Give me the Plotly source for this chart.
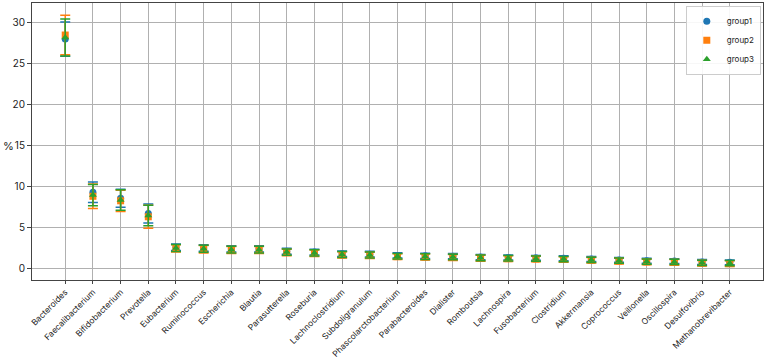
import plotly.graph_objects as go

genera = ["Bacteroides", "Faecalibacterium", "Bifidobacterium", "Prevotella", "Eubacterium",
          "Ruminococcus", "Escherichia", "Blautia", "Parasutterella", "Roseburia",
          "Lachnoclostridium", "Subdoligranulum", "Phascolarctobacterium", "Parabacteroides",
          "Dialister", "Romboutsia", "Lachnospira", "Fusobacterium", "Clostridium",
          "Akkermansia", "Coprococcus", "Veillonella", "Oscillospira", "Desulfovibrio",
          "Methanobrevibacter"]

group1_mean = [28.0, 9.35, 8.6, 6.75, 2.65, 2.55, 2.45, 2.45, 2.15, 2.05, 1.85, 1.8, 1.65, 1.6,
               1.55, 1.45, 1.4, 1.35, 1.3, 1.2, 1.1, 1.0, 0.95, 0.85, 0.8]
group1_err = [2.1, 1.25, 1.1, 1.15, 0.4, 0.4, 0.38, 0.38, 0.36, 0.36, 0.34, 0.34, 0.32, 0.32,
              0.32, 0.32, 0.3, 0.3, 0.3, 0.3, 0.3, 0.3, 0.3, 0.3, 0.3]

group2_mean = [28.5, 8.85, 8.3, 6.35, 2.5, 2.4, 2.3, 2.3, 2.0, 1.9, 1.7, 1.65, 1.5, 1.45,
               1.4, 1.3, 1.25, 1.2, 1.15, 1.05, 0.95, 0.85, 0.8, 0.7, 0.65]
group2_err = [2.4, 1.5, 1.3, 1.4, 0.45, 0.45, 0.42, 0.42, 0.4, 0.4, 0.38, 0.38, 0.36, 0.36,
              0.36, 0.36, 0.34, 0.34, 0.34, 0.34, 0.34, 0.34, 0.34, 0.34, 0.34]

group3_mean = [28.2, 9.0, 8.4, 6.5, 2.55, 2.45, 2.35, 2.35, 2.05, 1.95, 1.75, 1.7, 1.55, 1.5,
               1.45, 1.35, 1.3, 1.25, 1.2, 1.1, 1.0, 0.9, 0.85, 0.75, 0.7]
group3_err = [2.25, 1.3, 1.25, 1.25, 0.42, 0.42, 0.4, 0.4, 0.38, 0.38, 0.36, 0.36, 0.34, 0.34,
              0.34, 0.34, 0.32, 0.32, 0.32, 0.32, 0.32, 0.32, 0.32, 0.32, 0.32]

series = [
    ("group1", group1_mean, group1_err, "#1f77b4", "circle"),
    ("group2", group2_mean, group2_err, "#ff7f0e", "square"),
    ("group3", group3_mean, group3_err, "#2ca02c", "triangle-up"),
]

fig = go.Figure()
for name, m, e, c, sym in series:
    fig.add_trace(go.Scatter(
        x=list(range(len(genera))), y=m, mode="markers", name=name,
        marker=dict(color=c, symbol=sym, size=7),
        error_y=dict(type="data", array=e, visible=True, color=c, thickness=1.5, width=5),
    ))

font_family = "Inter, DejaVu Sans, sans-serif"
fig.update_layout(
    width=767, height=360,
    margin=dict(l=32, r=4, t=3, b=80, autoexpand=False),
    plot_bgcolor="white", paper_bgcolor="white",
    font=dict(family=font_family, size=10, color="#222"),
    showlegend=True,
    legend=dict(x=0.997, y=0.99, xanchor="right", yanchor="top",
                bgcolor="rgba(255,255,255,0.9)", bordercolor="#cccccc", borderwidth=1,
                font=dict(size=8), itemsizing="trace", itemwidth=30, tracegroupgap=0),
)
fig.update_xaxes(
    range=[-1.2, len(genera) - 1 + 1.2], automargin=False,
    tickmode="array", tickvals=list(range(len(genera))), ticktext=genera,
    tickangle=-45, tickfont=dict(size=8.4),
    showgrid=True, gridcolor="#b0b0b0", gridwidth=1,
    showline=True, linecolor="#444", linewidth=1, mirror=True,
    ticks="outside", ticklen=3, tickcolor="#444", zeroline=False,
)
fig.update_yaxes(
    range=[-1.35, 32.4], automargin=False,
    tickvals=[0, 5, 10, 15, 20, 25, 30], tickfont=dict(size=10),
    showgrid=True, gridcolor="#b0b0b0", gridwidth=1,
    showline=True, linecolor="#444", linewidth=1, mirror=True,
    ticks="outside", ticklen=4, tickcolor="#444", zeroline=False,
)
fig.add_annotation(text="%", xref="paper", yref="y", x=0, y=15,
                   xanchor="left", yanchor="middle", showarrow=False, xshift=-31,
                   font=dict(size=11, family=font_family))
fig.write_html("out.html")
